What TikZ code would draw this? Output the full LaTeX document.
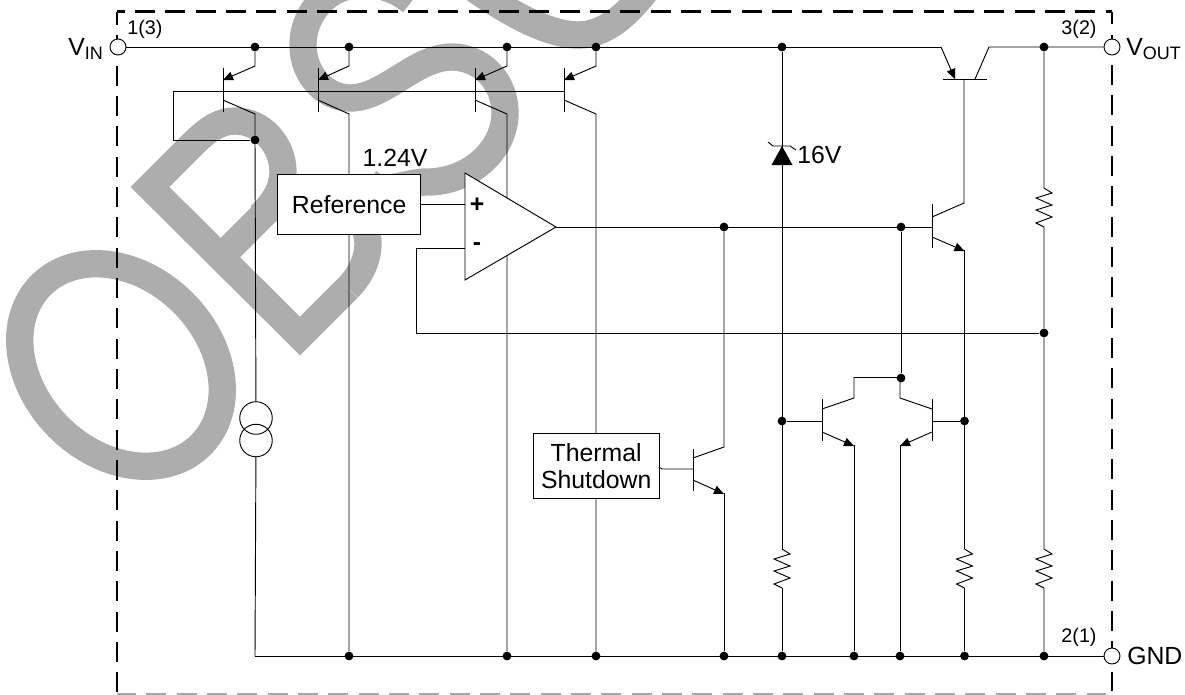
\documentclass[tikz,border=0pt]{standalone}
\usepackage{fontspec}
\setmainfont{Liberation Sans}
\usetikzlibrary{arrows.meta}
\newcommand{\lbl}{\fontsize{18.6}{21.5}\selectfont}
\newcommand{\pinl}{\fontsize{14.8}{16}\selectfont}
\newcommand{\sbs}[1]{\raisebox{-0.32ex}{\fontsize{13.5}{14}\selectfont #1}}
\tikzset{
  wm/.style={draw={rgb,255:red,173;green,173;blue,173},line width=20.5pt,line join=miter,miter limit=10},
  wire/.style={draw=black,line width=0.7pt,line join=miter},
  emit/.style={wire,-{Triangle[length=7.5pt,width=6.5pt]}},
  bar/.style={draw=black,line width=0.7pt},
  frame/.style={draw=black,line width=1.8pt},
  jdot/.style={circle,fill=black,draw=none,minimum size=6.6pt,inner sep=0pt},
  pinc/.style={circle,fill=white,draw=black,line width=0.7pt,minimum size=12pt,inner sep=0pt},
  blockbox/.style={draw=black,fill=white,line width=0.7pt,inner sep=0pt,align=center,font=\lbl},
  txt/.style={inner sep=0pt,font=\lbl},
  pintxt/.style={inner sep=0pt,font=\pinl},
  source/.style={circle,draw=black,line width=0.7pt,minimum size=24.4pt,inner sep=0pt}
}
\begin{document}
\begin{tikzpicture}[x=0.75pt,y=-0.75pt]
\useasboundingbox (0,0) rectangle (1185,694);
\clip (0,0) rectangle (1185,694);
% watermark
\draw[wm,shift={(121,365)},rotate=-45] (0,0) ellipse [x radius=84.75pt,y radius=66pt];
\draw[wm] (270,208) -- (222,256);
\draw[wm] (348,288) -- (300,336) -- (150,187) -- (193,144) .. controls (208,129) and (220,121) .. (235,121)
  .. controls (262,121) and (283,145) .. (283,172) .. controls (283,190) and (272,205) .. (260,216);
\draw[wm] (348,288) .. controls (360,276) and (368,260) .. (368,243) .. controls (368,225) and (350,195) .. (320,190) -- (270,208);
\draw[wm] (411.5,1.5) .. controls (395,-12) and (375,-18) .. (355,-15) .. controls (325,-12) and (303,15) .. (303,45)
  .. controls (303,75) and (325,98) .. (350,98) .. controls (385,98) and (415,57) .. (452,57)
  .. controls (480,57) and (505,80) .. (505,113) .. controls (505,150) and (470,182) .. (427,182)
  .. controls (405,182) and (382,196) .. (367.5,181.5);
\draw[wm] (465,-18) .. controls (510,15) and (550,35) .. (578,35) .. controls (605,35) and (628,15) .. (650,-15);
% dashed frame
\draw[frame,dash pattern=on 15pt off 7.75pt,dash phase=9.2pt] (117,11.5) -- (1112,11.5);
\draw[frame,dash pattern=on 15pt off 7.75pt,dash phase=5pt] (117,11.5) -- (117,694);
\draw[frame,dash pattern=on 15pt off 7.75pt,dash phase=5.5pt] (1112,11.5) -- (1112,691);
\draw[frame,draw=black!35,dash pattern=on 15pt off 7.75pt,dash phase=0.8pt] (117,693.7) -- (1106,693.7);
% pins
\node[pinc] (vin) at (118,47) {};
\node[pinc] (vout) at (1112,47) {};
\node[pinc] (gnd) at (1112,656) {};
% junctions on the top rail
\node[jdot] (r1) at (255,47) {};
\node[jdot] (r2) at (349,47) {};
\node[jdot] (r3) at (507,47) {};
\node[jdot] (r4) at (596,47) {};
\node[jdot] (r5) at (782,47) {};
\node[jdot] (r6) at (1044,47) {};
% junctions on the bottom rail
\node[jdot] (b2) at (349,656) {};
\node[jdot] (b3) at (507,656) {};
\node[jdot] (b4) at (596,656) {};
\node[jdot] (b5) at (724,656) {};
\node[jdot] (b6) at (782,656) {};
\node[jdot] (b7) at (854,656) {};
\node[jdot] (b8) at (900,656) {};
\node[jdot] (b9) at (964.5,656) {};
\node[jdot] (b10) at (1044,656) {};
% other junctions
\node[jdot] (loop) at (255,140) {};
\node[jdot] (o1) at (724,227) {};
\node[jdot] (o2) at (901,227) {};
\node[jdot] (fb) at (1044,333) {};
\node[jdot] (m1) at (901,378) {};
\node[jdot] (m2) at (782,421) {};
\node[jdot] (m3) at (964.5,421) {};
\coordinate (b1) at (255,656);
% rails
\draw[wire] (vin) -- (941,47);
\draw[wire] (975,79) -- (989,47) -- (vout);
\draw[wire] (b1) -- (gnd);
% top PNP transistors
\draw[bar] (223,68) -- (223,112);
\draw[bar] (318,68) -- (318,112);
\draw[bar] (475,68) -- (475,112);
\draw[bar] (564,68) -- (564,112);
\draw[emit] (r1) -- (255,66) -- (223,80);
\draw[emit] (r2) -- (349,66) -- (318,80);
\draw[emit] (r3) -- (507,66) -- (475,80);
\draw[emit] (r4) -- (596,66) -- (564,80);
\draw[wire] (loop) -- (173,140) -- (173,91) -- (564,91);
\draw[wire] (223,100) -- (255,114) -- (loop);
\draw[wire] (318,100) -- (349,114) -- (b2);
\draw[wire] (475,100) -- (507,114) -- (b3);
\draw[wire] (564,100) -- (596,114) -- (b4);
% current source
\node[source] (cs1) at (256,418) {};
\node[source] (cs2) at (256,440.5) {};
\draw[wire] (loop) -- (cs1);
\draw[wire] (cs2) -- (b1);
% zener and resistor column
\draw[wire] (r5) -- (782,549);
\draw[wire] (782,588) -- (b6);
\draw[wire] (768,142) -- (773,146) -- (790,146) -- (796,150);
\fill[black] (782,146) -- (792.5,165) -- (771.5,165) -- cycle;
\node[txt,anchor=west] (zv) at (797,155) {16V};
% pass transistor
\draw[bar] (943,79) -- (987,79);
\draw[emit] (941,47) -- (955,79);
\draw[wire] (964,79) -- (964,203) -- (932,217);
% driver transistor
\draw[bar] (932,204) -- (932,248);
\draw[emit] (932,237) -- (964.5,251);
\draw[wire] (964.5,250) -- (964.5,549);
\draw[wire] (964.5,588) -- (b9);
% output line
\draw[wire] (556,227) -- (932,227);
\draw[wire] (o1) -- (724,447) -- (693,458);
\draw[wire] (o2) -- (m1);
% resistors
\draw[wire] (r6) -- (1044,188) -- (1052,193) -- (1036,198) -- (1052,205) -- (1036,210) -- (1052,217) -- (1036,223) -- (1044,227) -- (fb);
\draw[wire] (fb) -- (1044,549) -- (1052,554) -- (1036,559) -- (1052,566) -- (1036,571) -- (1052,578) -- (1036,584) -- (1044,588) -- (b10);
\draw[wire] (964.5,549) -- (972.5,554) -- (956.5,559) -- (972.5,566) -- (956.5,571) -- (972.5,578) -- (956.5,584) -- (964.5,588);
\draw[wire] (782,549) -- (790,554) -- (774,559) -- (790,566) -- (774,571) -- (790,578) -- (774,584) -- (782,588);
% feedback
\draw[wire] (465,248) -- (416,248) -- (416,333) -- (fb);
% current mirror
\draw[bar] (822,399) -- (822,441);
\draw[bar] (932,399) -- (932,441);
\draw[wire] (m2) -- (822,421);
\draw[wire] (m3) -- (932,421);
\draw[wire] (822,409) -- (854,398) -- (854,377.5) -- (901,377.5);
\draw[wire] (900,378) -- (900,398) -- (932,409);
\draw[emit] (822,432) -- (854,446);
\draw[wire] (854,445) -- (b7);
\draw[emit] (932,432) -- (900,446);
\draw[wire] (900,445) -- (b8);
% thermal transistor
\draw[bar] (693,449) -- (693,491);
\draw[emit] (693,480) -- (724,494);
\draw[wire] (724,493) -- (b5);
% blocks
\node[blockbox,minimum width=107pt,minimum height=45.5pt] (ref) at (349.2,204.5) {Reference};
\node[blockbox,minimum width=94.2pt,minimum height=48.4pt] (therm) at (596.2,465.8) {Thermal\\[-1.5pt]Shutdown};
\draw[wire] (ref.east |- 0,204) -- (465,204);
\draw[wire] (659,467) -- (662,469) -- (693,469);
\draw[wire,fill=white] (465,173) -- (556,227) -- (465,280) -- cycle;
\node[txt,font=\lbl\bfseries] (plus) at (477,205) {+};
\node[txt,font=\lbl\bfseries] (minus) at (477,247) {-};
% labels
\node[txt,anchor=base] (v124) at (395,166) {1.24V};
\node[txt,anchor=base west] (lin) at (68,55) {V\sbs{IN}};
\node[txt,anchor=base west] (lout) at (1126,55) {V\sbs{OUT}};
\node[txt,anchor=base west] (lgnd) at (1127,664) {GND};
\node[pintxt] (p1) at (145,29) {1(3)};
\node[pintxt] (p3) at (1079,29) {3(2)};
\node[pintxt] (p2) at (1079,637) {2(1)};
\end{tikzpicture}
\end{document}
